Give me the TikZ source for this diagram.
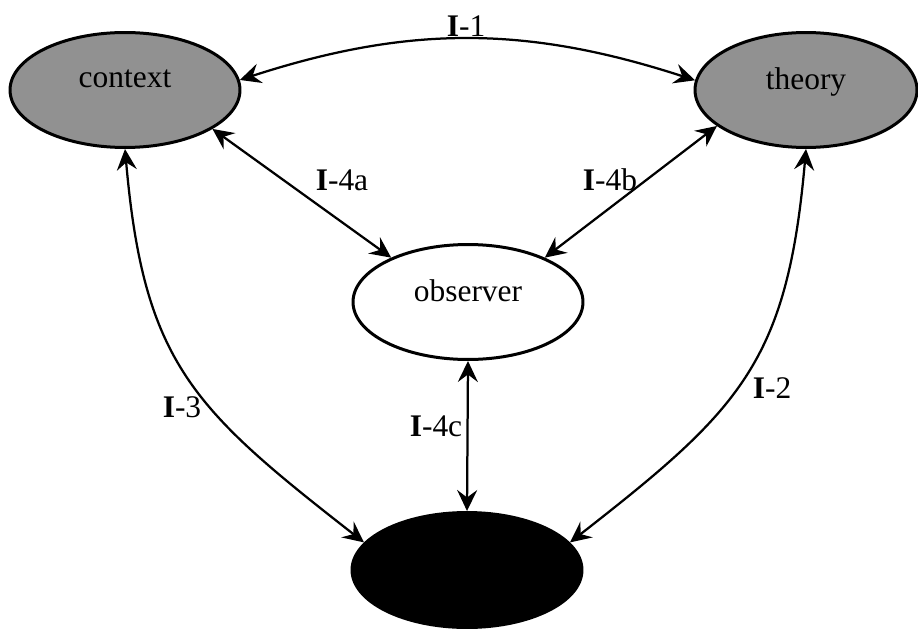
\documentclass[tikz,border=0pt]{standalone}
\usepackage{fontspec}
\setmainfont{Liberation Serif}
\usetikzlibrary{shapes.geometric,arrows.meta}

\definecolor{ovalgray}{gray}{0.57}

\begin{document}
\begin{tikzpicture}[
x=0.02cm, y=0.02cm,
oval/.style={
draw,
ellipse,
line width=0.06cm,
minimum width=4.6cm,
minimum height=2.3cm,
text depth=0.45cm,
font=\fontsize{17.9}{21}\selectfont
},
grayoval/.style={oval, fill=ovalgray},
darkoval/.style={oval, fill=black},
tag/.style={
inner sep=0pt,
font=\fontsize{17.9}{21}\selectfont
},
link/.style={
<->,
>={Stealth[length=0.42cm, width=0.4cm, inset=0.15cm]},
line width=0.045cm
}
]

\useasboundingbox (0,0) rectangle (918,-628);

% Ovals

\node (context) [grayoval] at (125,-90) {context};

\node (theory) [grayoval, minimum width=4.44cm] at (806,-90) {theory};

\node (observer) [oval] at (468,-302) {observer};

\node (result) [darkoval] at (467,-570) {};


% Interactions

\draw[link] (context.5) to[out=18, in=162] (theory.175);
\draw[link] (context.-24) -- (observer.150);
\draw[link] (observer.30) -- (theory.-158);
\draw[link] (observer.south) -- (result.north);
\draw[link] (context.south) to[out=-85, in=142, looseness=1.2] (result.165);
\draw[link] (theory.south) to[out=-95, in=38, looseness=1.2] (result.15);


% Labels

\node (tag1) [tag] at (466,-26) {\textbf{I}-1};
\node (tag4a) [tag] at (342,-180) {\textbf{I}-4a};
\node (tag4b) [tag] at (610,-180) {\textbf{I}-4b};
\node (tag4c) [tag] at (436,-426) {\textbf{I}-4c};
\node (tag3) [tag] at (182,-407) {\textbf{I}-3};
\node (tag2) [tag] at (772,-388) {\textbf{I}-2};

\end{tikzpicture}
\end{document}
